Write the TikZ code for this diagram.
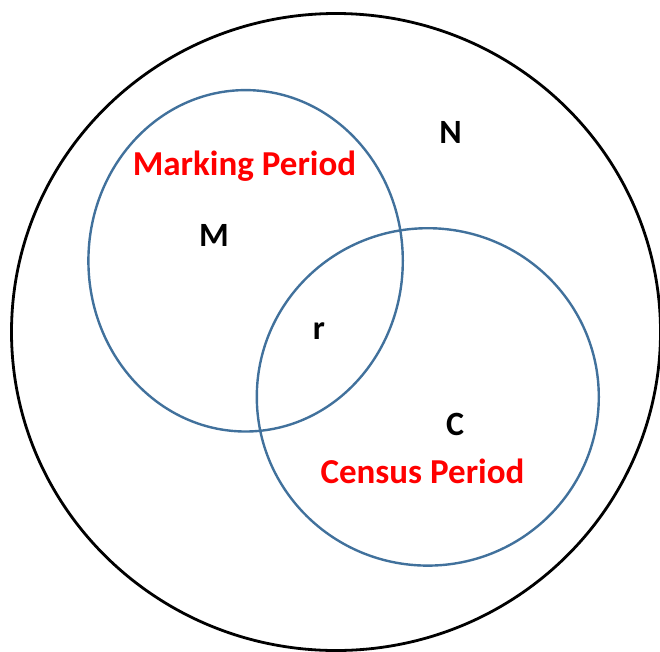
\documentclass[tikz,border=0pt]{standalone}
\usepackage{fontspec}
\setmainfont{Carlito}
\definecolor{setblue}{RGB}{65,113,156}
\definecolor{lblred}{RGB}{255,0,0}
\begin{document}
\begin{tikzpicture}[x=1pt,y=-1pt,
  universe/.style={draw=black,line width=2.8pt},
  setring/.style={draw=setblue,line width=2.4pt},
  lbl/.style={font=\fontsize{34}{40}\selectfont\bfseries,inner sep=0pt,text=black},
  plbl/.style={font=\fontsize{35}{42}\selectfont\bfseries,inner sep=0pt,text=lblred}]
\useasboundingbox (0,0) rectangle (660,651);
\draw[universe] (336,332) ellipse [x radius=324.5, y radius=318.5];
\draw[setring] (245.6,260.8) ellipse [x radius=157.2, y radius=170.7];
\draw[setring] (427.8,396.9) ellipse [x radius=171, y radius=168.7];
\node[plbl,anchor=base] (mp) at (244.5,175.5) {Marking Period};
\node[plbl,anchor=base] (cp) at (422.5,483.3) {Census Period};
\node[lbl,anchor=base] (n) at (450.5,143.2) {N};
\node[lbl,anchor=base] (m) at (214,246) {M};
\node[lbl,anchor=base] (r) at (319,339.4) {r};
\node[lbl,anchor=base] (c) at (455,435) {C};
\end{tikzpicture}
\end{document}
